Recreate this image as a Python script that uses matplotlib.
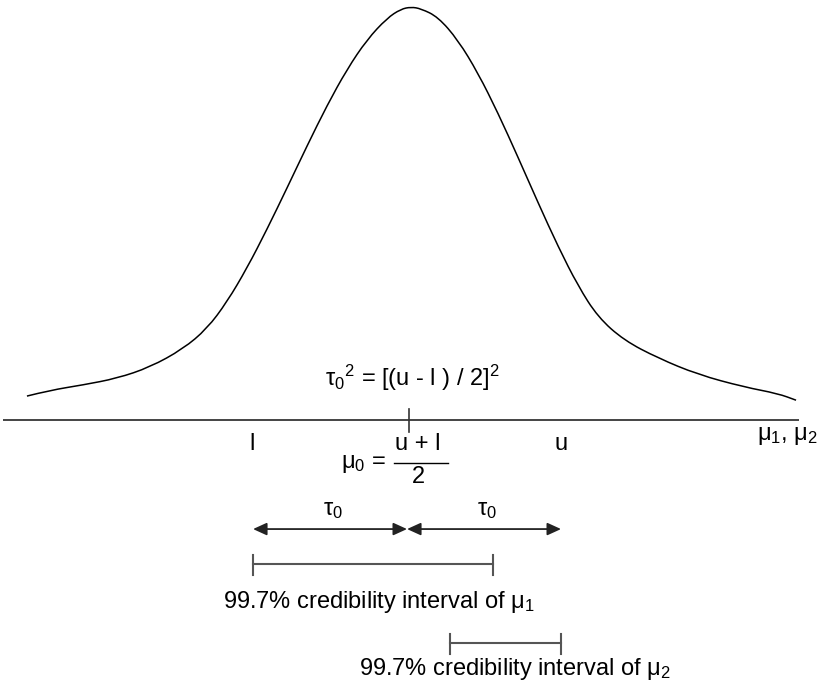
import matplotlib
matplotlib.use("Agg")
import matplotlib.pyplot as plt
from matplotlib.path import Path
from matplotlib.patches import PathPatch, FancyArrowPatch

plt.rcParams["font.family"] = ["Liberation Sans", "DejaVu Sans"]
plt.rcParams["mathtext.fontset"] = "custom"
plt.rcParams["mathtext.rm"] = "Liberation Sans"
plt.rcParams["mathtext.it"] = "Liberation Sans"
plt.rcParams["mathtext.bf"] = "Liberation Sans:bold"

# Prior density sketch (x in units of tau0, centred on mu0; height relative to peak)
curve_x = [-2.468, -2.318, -2.104, -1.883, -1.669, -1.455, -1.299, -1.169,
           -1.039, -0.909, -0.779, -0.649, -0.519, -0.390, -0.260, -0.130,
           -0.040, 0.026, 0.090, 0.201, 0.331, 0.461, 0.591, 0.721, 0.851,
           0.981, 1.110, 1.240, 1.409, 1.630, 1.890, 2.188, 2.409, 2.526]
curve_y = [0.058, 0.072, 0.085, 0.101, 0.128, 0.172, 0.221, 0.286,
           0.368, 0.462, 0.562, 0.664, 0.762, 0.849, 0.921, 0.973,
           0.995, 1.000, 0.996, 0.976, 0.920, 0.840, 0.743, 0.636, 0.526,
           0.420, 0.325, 0.249, 0.193, 0.150, 0.110, 0.080, 0.064, 0.048]

l_val, u_val = -1.0, 1.0
mu0 = (l_val + u_val) / 2
interval_mu1 = (-1.0, 0.56)
interval_mu2 = (0.28, 1.0)

fig = plt.figure(figsize=(8.23, 6.86), dpi=100)
ax = fig.add_axes([0, 0, 1, 1])
ax.set_xlim(-2.643, 2.701)
ax.set_ylim(-0.644, 1.017)
ax.axis("off")

# smooth curve through the points (quadratic segments via midpoints)
pts = list(zip(curve_x, curve_y))
verts = [pts[0]]
codes = [Path.MOVETO]
for i in range(1, len(pts) - 1):
    mid = ((pts[i][0] + pts[i + 1][0]) / 2, (pts[i][1] + pts[i + 1][1]) / 2)
    verts += [pts[i], mid]
    codes += [Path.CURVE3, Path.CURVE3]
verts.append(pts[-1])
codes.append(Path.LINETO)
ax.add_patch(PathPatch(Path(verts, codes), fill=False, lw=1.1, color="black"))

# horizontal axis and centre tick
ax.plot([-2.623, 2.545], [0, 0], color="#444444", lw=1.4, solid_capstyle="butt")
ax.plot([mu0 + 0.013, mu0 + 0.013], [0.027, -0.029], color="#333333", lw=1.2)

fs = 17
ax.text(l_val - 0.006, -0.073, "l", ha="center", va="baseline", fontsize=fs)
ax.text(u_val, -0.073, "u", ha="center", va="baseline", fontsize=fs)
ax.text(2.47, -0.039, r"$\mathregular{\mu_1}$, $\mathregular{\mu_2}$",
        ha="center", va="center", fontsize=fs)
ax.text(0.032, 0.102, r"$\mathregular{\tau_0{}^2}$ = [(u - l ) / 2]$\mathregular{^2}$",
        ha="center", va="center", fontsize=fs)

# mu0 = (u + l) / 2
ax.text(0.07, -0.073, "u + l", ha="center", va="baseline", fontsize=fs)
ax.plot([-0.084, 0.266], [-0.104, -0.104], color="black", lw=1.0)
ax.text(0.075, -0.153, "2", ha="center", va="baseline", fontsize=fs)
ax.text(-0.28, -0.106, r"$\mathregular{\mu_0}$ =", ha="center", va="center", fontsize=fs)

# tau0 arrows
y_arr = -0.264
for a, b in [(l_val, mu0), (mu0, u_val)]:
    ax.add_patch(FancyArrowPatch((a, y_arr), (b, y_arr),
                                 arrowstyle="<|-|>,head_length=0.55,head_width=0.25",
                                 mutation_scale=15, color="#222222", lw=1.3,
                                 shrinkA=0, shrinkB=0))
ax.text(-0.481, -0.230, r"$\mathregular{\tau_0}$", ha="center", va="baseline", fontsize=fs)
ax.text(0.519, -0.230, r"$\mathregular{\tau_0}$", ha="center", va="baseline", fontsize=fs)

# credibility intervals
def interval(lo, hi, y):
    ax.plot([lo, hi], [y, y], color="#555555", lw=1.5)
    for xv in (lo, hi):
        ax.plot([xv, xv], [y + 0.023, y - 0.027], color="#555555", lw=1.5)

interval(*interval_mu1, -0.349)
interval(*interval_mu2, -0.540)
ax.text(-0.18, -0.455, r"99.7% credibility interval of $\mathregular{\mu_1}$",
        ha="center", va="baseline", fontsize=fs)
ax.text(0.70, -0.617, r"99.7% credibility interval of $\mathregular{\mu_2}$",
        ha="center", va="baseline", fontsize=fs)

fig.savefig("out.png", dpi=100, facecolor="white")
